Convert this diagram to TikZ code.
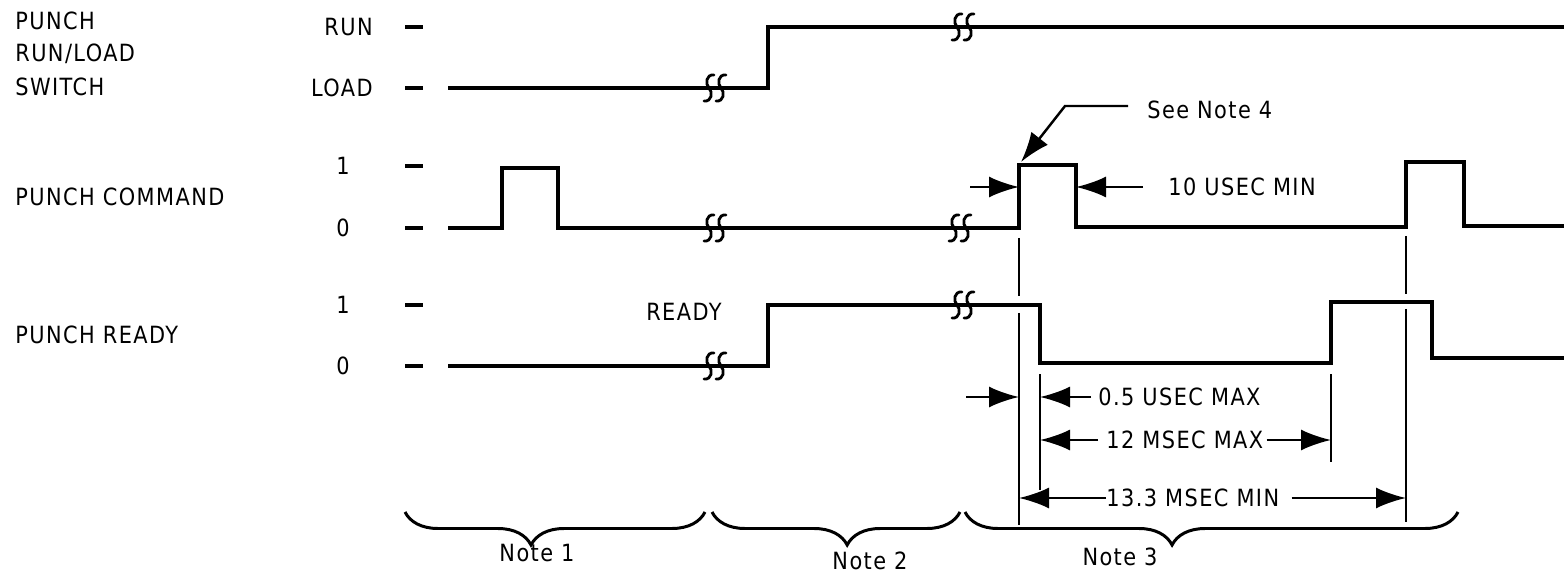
\documentclass[tikz,border=0pt]{standalone}
\usepackage{fontspec}
\setmainfont{DejaVu Sans}[FakeStretch=0.88,LetterSpace=6]
\usetikzlibrary{arrows.meta,decorations.pathreplacing}
\tikzset{
  sig/.style={line width=1.8pt,line join=miter},
  brkln/.style={line width=1.6pt,line cap=round},
  lvltick/.style={line width=2.3pt},
  extln/.style={line width=1.4pt},
  dimarr/.style={-{Latex[length=6mm,width=4.2mm]},line width=1.4pt},
  brc/.style={decorate,decoration={brace,mirror,amplitude=6.6mm,aspect=#1},line width=1.7pt},
  lbl/.style={font=\fontsize{13.5}{16}\selectfont,inner sep=0pt},
}
% time break mark (two squiggles) at (x,y)
\newcommand{\sbrk}[2]{%
  \foreach \dx in {-6,6}
    \draw[brkln] ({#1+\dx+5},{#2-13}) .. controls ({#1+\dx-3},{#2-14}) and ({#1+\dx-4},{#2-4}) .. ({#1+\dx},{#2})
      .. controls ({#1+\dx+4},{#2+4}) and ({#1+\dx+3},{#2+14}) .. ({#1+\dx-5},{#2+13});
}

\begin{document}
\begin{tikzpicture}[x=0.2mm,y=-0.2mm]
  \useasboundingbox (0,0) rectangle (1564,577);
  % signal names and levels
  \node[lbl,anchor=west] (swa) at (15,21) {PUNCH};
  \node[lbl,anchor=west] (swb) at (15,54) {RUN/LOAD};
  \node[lbl,anchor=west] (swc) at (15,87) {SWITCH};
  \node[lbl,anchor=east] (run) at (373,27) {RUN};
  \node[lbl,anchor=east] (load) at (373,88) {LOAD};
  \node[lbl,anchor=west] (cmd) at (15,197) {PUNCH COMMAND};
  \node[lbl] (cmdhi) at (343,166) {1};
  \node[lbl] (cmdlo) at (343,228) {0};
  \node[lbl,anchor=west] (rdy) at (15,335) {PUNCH READY};
  \node[lbl] (rdyhi) at (343,305) {1};
  \node[lbl] (rdylo) at (343,366) {0};
  \foreach \y in {27,88,166,228,305,366}
    \draw[lvltick] (405,\y) -- (423,\y);
  % run/load switch
  \draw[sig] (448,88) -- (768,88) -- (768,27) -- (1564,27);
  \sbrk{715}{88} \sbrk{963}{27}
  % punch command
  \draw[sig] (448,228) -- (502,228) -- (502,168) -- (558,168) -- (558,228) -- (1019,228)
    -- (1019,165) -- (1076,165) -- (1076,227) -- (1406,227) -- (1406,162) -- (1464,162)
    -- (1464,226) -- (1564,226);
  \sbrk{715}{228} \sbrk{960}{228}
  % punch ready
  \draw[sig] (448,366) -- (768,366) -- (768,305) -- (1040,305) -- (1040,363) -- (1331,363)
    -- (1331,302) -- (1432,302) -- (1432,358) -- (1564,358);
  \sbrk{715}{366} \sbrk{963}{305}
  \node[lbl,anchor=east] (rdytxt) at (722,312) {READY};
  % extension lines
  \draw[extln] (1019,238) -- (1019,296) (1019,313) -- (1019,525);
  \draw[extln] (1406,236) -- (1406,294) (1406,309) -- (1406,522);
  \draw[extln] (1040,374) -- (1040,490);
  \draw[extln] (1331,374) -- (1331,462);
  % timing dimensions
  \node[lbl,anchor=west] (n4) at (1147,110) {See Note 4};
  \draw[dimarr] (1128,106) -- (1065,106) -- (1021,162);
  \draw[dimarr] (970,187) -- (1019,187);
  \node[lbl,anchor=west] (t10) at (1168,187) {10 USEC MIN};
  \draw[dimarr] ([xshift=-5mm]t10.west) -- (1076,187);
  \draw[dimarr] (966,397) -- (1019,397);
  \node[lbl,anchor=west] (t05) at (1098,397) {0.5 USEC MAX};
  \draw[dimarr] ([xshift=-1.4mm]t05.west) -- (1040,397);
  \node[lbl,anchor=west] (t12) at (1106,440) {12 MSEC MAX};
  \draw[dimarr] ([xshift=-1.6mm]t12.west) -- (1040,440);
  \draw[dimarr] ([xshift=0.6mm]t12.east) -- (1331,440);
  \node[lbl,anchor=west] (t133) at (1106,498) {13.3 MSEC MIN};
  \draw[dimarr] (t133.west) -- (1019,498);
  \draw[dimarr] ([xshift=2.4mm]t133.east) -- (1406,498);
  % note braces
  \draw[brc=0.42] (405,512) -- (705,512);
  \draw[brc=0.545] (712,512) -- (960,512);
  \draw[brc=0.42] (965,512) -- (1458,512);
  \node[lbl] (nt1) at (537,553) {Note 1};
  \node[lbl] (nt2) at (870,561) {Note 2};
  \node[lbl] (nt3) at (1120,557) {Note 3};
\end{tikzpicture}
\end{document}
